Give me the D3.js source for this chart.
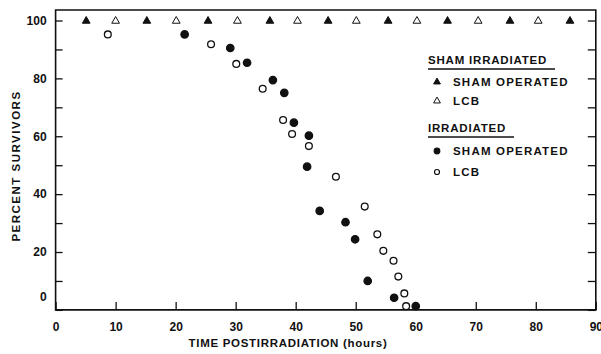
<!DOCTYPE html>
<html>
<head>
<meta charset="utf-8">
<script src="https://cdn.jsdelivr.net/npm/d3@7"></script>
<style>
    body { margin: 0; background: #fff; }
    svg text { font-family: "Liberation Sans", Arial, sans-serif; font-weight: bold; fill: #111; }
</style>
</head>
<body>
<div id="chart"></div>
<script>
// sham irradiated groups, all survive (100%)
const shamOpTimes = [5.1, 15.2, 25.4, 35.7, 45.4, 55.4, 65.3, 75.7, 85.7];
const shamOpPct = [100, 100, 100, 100, 100, 100, 100, 100, 100];
const shamLcbTimes = [10, 20.1, 30.3, 40.3, 50.1, 60.2, 70.4, 80.4];
const shamLcbPct = [100, 100, 100, 100, 100, 100, 100, 100];

// irradiated groups
const irrOpTimes = [21.5, 29.1, 31.9, 36.2, 38.1, 39.7, 42.2, 41.9, 44.0, 48.3, 49.9, 52.0, 56.4, 60.0];
const irrOpPct = [95.2, 90.5, 85.4, 79.4, 75.0, 64.7, 60.2, 49.5, 34.2, 30.3, 24.4, 10.0, 4.2, 1.3];
const irrLcbTimes = [8.7, 25.9, 30.1, 34.5, 37.9, 39.4, 42.2, 46.7, 51.5, 53.6, 54.6, 56.3, 57.1, 58.1, 58.4];
const irrLcbPct = [95.2, 91.8, 85.0, 76.4, 65.6, 60.8, 56.6, 46.0, 35.7, 26.1, 20.4, 17.0, 11.5, 5.7, 1.3];

const xTicks = [0, 10, 20, 30, 40, 50, 60, 70, 80, 90];
const yTicks = [0, 20, 40, 60, 80, 100];
const yMinorTicks = [10, 30, 50, 70, 90];

const w = 601, h = 354;
const x0 = 55.6, x1 = 595.8, yTop = 10, yBottom = 309.9;

const svg = d3.select("#chart").append("svg")
    .attr("width", w)
    .attr("height", h);

const x = d3.scaleLinear().domain([0, 90]).range([x0, x1]);
const y = d3.scaleLinear().domain([0, 100]).range([yBottom, 20.5]);

// frame
svg.append("path")
    .attr("d", "M" + x0 + "," + yTop + "H" + x1 + "V" + yBottom + "H" + x0 + "Z")
    .attr("fill", "none")
    .attr("stroke", "#111")
    .attr("stroke-width", 1.6);

// bottom axis, ticks pointing up
const xAxis = svg.append("g")
    .attr("transform", "translate(0," + yBottom + ")")
    .call(d3.axisBottom(x).tickValues(xTicks).tickSize(-8).tickPadding(13).tickFormat(d3.format("d")));
xAxis.select(".domain").remove();
xAxis.selectAll("line").attr("stroke", "#111").attr("stroke-width", 1.3);
xAxis.selectAll("text").style("font-size", "12px");

// left axis
const yAxis = svg.append("g")
    .attr("transform", "translate(" + x0 + ",0)")
    .call(d3.axisLeft(y).tickValues(yTicks).tickSize(-7).tickPadding(9));
yAxis.select(".domain").remove();
yAxis.selectAll("line").attr("stroke", "#111").attr("stroke-width", 1.3);
yAxis.selectAll("text").style("font-size", "12px");
yAxis.selectAll(".tick").filter(d => d === 0).select("text").attr("y", -13);

const yMinor = svg.append("g")
    .attr("transform", "translate(" + x0 + ",0)")
    .call(d3.axisLeft(y).tickValues(yMinorTicks).tickSize(-7).tickFormat(""));
yMinor.select(".domain").remove();
yMinor.selectAll("line").attr("stroke", "#111").attr("stroke-width", 1.3);

// right axis ticks pointing in
const yRight = svg.append("g")
    .attr("transform", "translate(" + x1 + ",0)")
    .call(d3.axisRight(y).tickValues(d3.merge([yTicks, yMinorTicks])).tickSize(-8).tickFormat(""));
yRight.select(".domain").remove();
yRight.selectAll("line").attr("stroke", "#111").attr("stroke-width", 1.3);

// axis titles
svg.append("text")
    .attr("x", 288)
    .attr("y", 347)
    .attr("text-anchor", "middle")
    .style("font-size", "11.5px")
    .style("letter-spacing", "0.7px")
    .text("TIME POSTIRRADIATION (hours)");

svg.append("text")
    .attr("transform", "translate(20,166) rotate(-90)")
    .attr("text-anchor", "middle")
    .style("font-size", "11.5px")
    .style("letter-spacing", "1.5px")
    .text("PERCENT SURVIVORS");

// markers
const tri = d3.symbol().type(d3.symbolTriangle).size(26);

function drawSeries(times, pct, kind) {
    const pts = times.map((t, i) => ({t: t, p: pct[i]}));
    const g = svg.append("g");
    if (kind === "triFilled" || kind === "triOpen") {
        g.selectAll("path").data(pts).enter().append("path")
            .attr("d", tri)
            .attr("transform", d => "translate(" + x(d.t) + "," + (y(d.p) + 0.5) + ")")
            .attr("fill", kind === "triFilled" ? "#111" : "#fff")
            .attr("stroke", "#111")
            .attr("stroke-width", 1);
    } else {
        g.selectAll("circle").data(pts).enter().append("circle")
            .attr("cx", d => x(d.t))
            .attr("cy", d => y(d.p))
            .attr("r", kind === "dotFilled" ? 3.7 : 3.4)
            .attr("fill", kind === "dotFilled" ? "#111" : "#fff")
            .attr("stroke", "#111")
            .attr("stroke-width", 1.3);
    }
}

drawSeries(shamOpTimes, shamOpPct, "triFilled");
drawSeries(shamLcbTimes, shamLcbPct, "triOpen");
drawSeries(irrLcbTimes, irrLcbPct, "dotOpen");
drawSeries(irrOpTimes, irrOpPct, "dotFilled");

// legend
const legend = svg.append("g");
const headers = [
    {label: "SHAM IRRADIATED", y: 64, x2: 555},
    {label: "IRRADIATED", y: 132, x2: 514}
];
headers.forEach(hd => {
    legend.append("text")
        .attr("x", 428).attr("y", hd.y)
        .style("font-size", "11.5px")
        .style("letter-spacing", "0.8px")
        .text(hd.label);
    legend.append("line")
        .attr("x1", 428).attr("x2", hd.x2)
        .attr("y1", hd.y + 5).attr("y2", hd.y + 5)
        .attr("stroke", "#111").attr("stroke-width", 1.3);
});

const items = [
    {label: "SHAM OPERATED", y: 82, kind: "triFilled"},
    {label: "LCB", y: 101, kind: "triOpen"},
    {label: "SHAM OPERATED", y: 151, kind: "dotFilled"},
    {label: "LCB", y: 172, kind: "dotOpen"}
];
items.forEach(it => {
    if (it.kind === "triFilled" || it.kind === "triOpen") {
        legend.append("path")
            .attr("d", d3.symbol().type(d3.symbolTriangle).size(20))
            .attr("transform", "translate(437," + it.y + ")")
            .attr("fill", it.kind === "triFilled" ? "#111" : "#fff")
            .attr("stroke", "#111").attr("stroke-width", 1);
    } else {
        legend.append("circle")
            .attr("cx", 437).attr("cy", it.y)
            .attr("r", it.kind === "dotFilled" ? 2.8 : 2.5)
            .attr("fill", it.kind === "dotFilled" ? "#111" : "#fff")
            .attr("stroke", "#111").attr("stroke-width", 1.2);
    }
    legend.append("text")
        .attr("x", 453).attr("y", it.y + 4)
        .style("font-size", "11.5px")
        .style("letter-spacing", "1.2px")
        .text(it.label);
});
</script>
</body>
</html>
